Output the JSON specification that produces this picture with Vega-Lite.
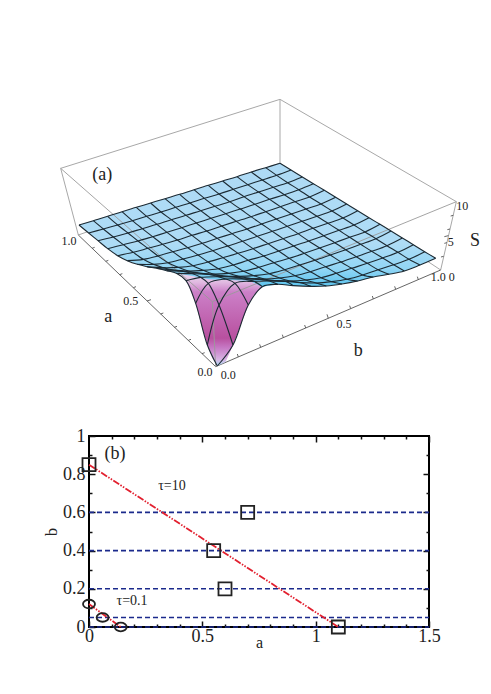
{
"$schema":"https://vega.github.io/schema/vega-lite/v6.json",
"padding":{"left":42,"top":90,"right":0,"bottom":0},
"spacing":36,
"background":"white",
"config":{"font":"Liberation Serif"},
"datasets":{
"surface":[{"n":0,"u":90,"v":405},{"n":1,"u":693,"v":220},{"n":2,"u":1160,"v":505},{"n":3,"u":1113,"v":525},{"n":4,"u":1066,"v":543},{"n":5,"u":1020,"v":553},{"n":6,"u":973,"v":561},{"n":7,"u":926,"v":573},{"n":8,"u":879,"v":582},{"n":9,"u":832,"v":588},{"n":10,"u":786,"v":589},{"n":11,"u":733,"v":587},{"n":12,"u":686,"v":583},{"n":13,"u":640,"v":590},{"n":14,"u":600,"v":572},{"n":15,"u":540,"v":570},{"n":16,"u":480,"v":568},{"n":17,"u":430,"v":558},{"n":18,"u":382,"v":550},{"n":19,"u":353,"v":542},{"n":20,"u":323,"v":535},{"n":21,"u":294,"v":530},{"n":22,"u":265,"v":523},{"n":23,"u":235,"v":512},{"n":24,"u":206,"v":497},{"n":25,"u":176,"v":476},{"n":26,"u":147,"v":452},{"n":27,"u":119,"v":429}],
"pit":[{"n":0,"u":385,"v":550},{"n":1,"u":411,"v":572},{"n":2,"u":420,"v":590},{"n":3,"u":440,"v":640},{"n":4,"u":460,"v":715},{"n":5,"u":475,"v":765},{"n":6,"u":490,"v":805},{"n":7,"u":505,"v":828},{"n":8,"u":530,"v":815},{"n":9,"u":552,"v":765},{"n":10,"u":575,"v":705},{"n":11,"u":598,"v":645},{"n":12,"u":615,"v":615},{"n":13,"u":640,"v":590},{"n":14,"u":600,"v":560},{"n":15,"u":500,"v":555}],
"grid":[
{"i":14,"j":0,"u":90,"v":405},{"i":13,"j":0,"u":119,"v":429},{"i":12,"j":0,"u":147,"v":452},{"i":11,"j":0,"u":176,"v":476},{"i":10,"j":0,"u":206,"v":497},{"i":9,"j":0,"u":235,"v":512},{"i":8,"j":0,"u":265,"v":523},{"i":7,"j":0,"u":294,"v":530},{"i":6,"j":0,"u":323,"v":535},{"i":5,"j":0,"u":353,"v":542},{"i":4,"j":0,"u":382,"v":550},{"i":3,"j":0,"u":411,"v":572},{"i":2,"j":0,"u":440,"v":640},{"i":1,"j":0,"u":475,"v":765},{"i":0,"j":0,"u":505,"v":828},
{"i":14,"j":1,"u":133,"v":392},{"i":13,"j":1,"u":163,"v":417},{"i":12,"j":1,"u":193,"v":441},{"i":11,"j":1,"u":223,"v":464},{"i":10,"j":1,"u":253,"v":487},{"i":9,"j":1,"u":283,"v":508},{"i":8,"j":1,"u":313,"v":523},{"i":7,"j":1,"u":343,"v":533},{"i":6,"j":1,"u":373,"v":540},{"i":5,"j":1,"u":402,"v":544},{"i":4,"j":1,"u":432,"v":551},{"i":3,"j":1,"u":455,"v":562},{"i":2,"j":1,"u":478,"v":580},{"i":1,"j":1,"u":510,"v":645},{"i":0,"j":1,"u":552,"v":765},
{"i":14,"j":2,"u":176,"v":379},{"i":13,"j":2,"u":206,"v":405},{"i":12,"j":2,"u":237,"v":429},{"i":11,"j":2,"u":267,"v":453},{"i":10,"j":2,"u":297,"v":475},{"i":9,"j":2,"u":327,"v":498},{"i":8,"j":2,"u":357,"v":518},{"i":7,"j":2,"u":387,"v":532},{"i":6,"j":2,"u":418,"v":543},{"i":5,"j":2,"u":448,"v":549},{"i":4,"j":2,"u":478,"v":553},{"i":3,"j":2,"u":508,"v":560},{"i":2,"j":2,"u":530,"v":567},{"i":1,"j":2,"u":558,"v":580},{"i":0,"j":2,"u":598,"v":645},
{"i":14,"j":3,"u":219,"v":365},{"i":13,"j":3,"u":250,"v":392},{"i":12,"j":3,"u":280,"v":416},{"i":11,"j":3,"u":311,"v":440},{"i":10,"j":3,"u":341,"v":463},{"i":9,"j":3,"u":371,"v":485},{"i":8,"j":3,"u":402,"v":507},{"i":7,"j":3,"u":432,"v":527},{"i":6,"j":3,"u":463,"v":541},{"i":5,"j":3,"u":493,"v":552},{"i":4,"j":3,"u":524,"v":558},{"i":3,"j":3,"u":554,"v":561},{"i":2,"j":3,"u":584,"v":567},{"i":1,"j":3,"u":615,"v":574},{"i":0,"j":3,"u":640,"v":590},
{"i":14,"j":4,"u":262,"v":352},{"i":13,"j":4,"u":293,"v":379},{"i":12,"j":4,"u":324,"v":403},{"i":11,"j":4,"u":354,"v":427},{"i":10,"j":4,"u":385,"v":450},{"i":9,"j":4,"u":416,"v":473},{"i":8,"j":4,"u":447,"v":495},{"i":7,"j":4,"u":477,"v":516},{"i":6,"j":4,"u":508,"v":536},{"i":5,"j":4,"u":539,"v":550},{"i":4,"j":4,"u":569,"v":559},{"i":3,"j":4,"u":600,"v":565},{"i":2,"j":4,"u":631,"v":568},{"i":1,"j":4,"u":661,"v":573},{"i":0,"j":4,"u":686,"v":583},
{"i":14,"j":5,"u":305,"v":339},{"i":13,"j":5,"u":336,"v":366},{"i":12,"j":5,"u":367,"v":389},{"i":11,"j":5,"u":398,"v":413},{"i":10,"j":5,"u":429,"v":436},{"i":9,"j":5,"u":460,"v":460},{"i":8,"j":5,"u":491,"v":482},{"i":7,"j":5,"u":522,"v":503},{"i":6,"j":5,"u":553,"v":525},{"i":5,"j":5,"u":584,"v":544},{"i":4,"j":5,"u":615,"v":557},{"i":3,"j":5,"u":646,"v":567},{"i":2,"j":5,"u":677,"v":572},{"i":1,"j":5,"u":708,"v":574},{"i":0,"j":5,"u":733,"v":587},
{"i":14,"j":6,"u":348,"v":326},{"i":13,"j":6,"u":380,"v":352},{"i":12,"j":6,"u":411,"v":376},{"i":11,"j":6,"u":442,"v":399},{"i":10,"j":6,"u":473,"v":423},{"i":9,"j":6,"u":505,"v":445},{"i":8,"j":6,"u":536,"v":468},{"i":7,"j":6,"u":567,"v":490},{"i":6,"j":6,"u":598,"v":511},{"i":5,"j":6,"u":630,"v":532},{"i":4,"j":6,"u":661,"v":551},{"i":3,"j":6,"u":692,"v":564},{"i":2,"j":6,"u":723,"v":573},{"i":1,"j":6,"u":755,"v":578},{"i":0,"j":6,"u":786,"v":589},
{"i":14,"j":7,"u":392,"v":313},{"i":13,"j":7,"u":423,"v":339},{"i":12,"j":7,"u":455,"v":362},{"i":11,"j":7,"u":486,"v":385},{"i":10,"j":7,"u":518,"v":408},{"i":9,"j":7,"u":549,"v":431},{"i":8,"j":7,"u":581,"v":454},{"i":7,"j":7,"u":612,"v":476},{"i":6,"j":7,"u":644,"v":498},{"i":5,"j":7,"u":675,"v":518},{"i":4,"j":7,"u":707,"v":539},{"i":3,"j":7,"u":738,"v":557},{"i":2,"j":7,"u":770,"v":570},{"i":1,"j":7,"u":801,"v":579},{"i":0,"j":7,"u":832,"v":588},
{"i":14,"j":8,"u":435,"v":299},{"i":13,"j":8,"u":466,"v":325},{"i":12,"j":8,"u":498,"v":349},{"i":11,"j":8,"u":530,"v":371},{"i":10,"j":8,"u":562,"v":394},{"i":9,"j":8,"u":594,"v":417},{"i":8,"j":8,"u":625,"v":439},{"i":7,"j":8,"u":657,"v":461},{"i":6,"j":8,"u":689,"v":483},{"i":5,"j":8,"u":721,"v":505},{"i":4,"j":8,"u":752,"v":525},{"i":3,"j":8,"u":784,"v":545},{"i":2,"j":8,"u":816,"v":563},{"i":1,"j":8,"u":848,"v":575},{"i":0,"j":8,"u":879,"v":582},
{"i":14,"j":9,"u":478,"v":286},{"i":13,"j":9,"u":510,"v":312},{"i":12,"j":9,"u":542,"v":335},{"i":11,"j":9,"u":574,"v":357},{"i":10,"j":9,"u":606,"v":380},{"i":9,"j":9,"u":638,"v":402},{"i":8,"j":9,"u":670,"v":424},{"i":7,"j":9,"u":702,"v":446},{"i":6,"j":9,"u":734,"v":468},{"i":5,"j":9,"u":766,"v":490},{"i":4,"j":9,"u":798,"v":511},{"i":3,"j":9,"u":830,"v":530},{"i":2,"j":9,"u":862,"v":550},{"i":1,"j":9,"u":894,"v":568},{"i":0,"j":9,"u":926,"v":573},
{"i":14,"j":10,"u":521,"v":273},{"i":13,"j":10,"u":553,"v":298},{"i":12,"j":10,"u":585,"v":320},{"i":11,"j":10,"u":618,"v":343},{"i":10,"j":10,"u":650,"v":365},{"i":9,"j":10,"u":682,"v":387},{"i":8,"j":10,"u":715,"v":409},{"i":7,"j":10,"u":747,"v":431},{"i":6,"j":10,"u":779,"v":453},{"i":5,"j":10,"u":812,"v":474},{"i":4,"j":10,"u":844,"v":495},{"i":3,"j":10,"u":876,"v":516},{"i":2,"j":10,"u":908,"v":535},{"i":1,"j":10,"u":941,"v":555},{"i":0,"j":10,"u":973,"v":561},
{"i":14,"j":11,"u":564,"v":260},{"i":13,"j":11,"u":596,"v":284},{"i":12,"j":11,"u":629,"v":306},{"i":11,"j":11,"u":662,"v":328},{"i":10,"j":11,"u":694,"v":350},{"i":9,"j":11,"u":727,"v":372},{"i":8,"j":11,"u":759,"v":394},{"i":7,"j":11,"u":792,"v":415},{"i":6,"j":11,"u":824,"v":437},{"i":5,"j":11,"u":857,"v":458},{"i":4,"j":11,"u":890,"v":479},{"i":3,"j":11,"u":922,"v":500},{"i":2,"j":11,"u":955,"v":520},{"i":1,"j":11,"u":987,"v":539},{"i":0,"j":11,"u":1020,"v":553},
{"i":14,"j":12,"u":607,"v":246},{"i":13,"j":12,"u":640,"v":270},{"i":12,"j":12,"u":673,"v":292},{"i":11,"j":12,"u":706,"v":314},{"i":10,"j":12,"u":738,"v":335},{"i":9,"j":12,"u":771,"v":357},{"i":8,"j":12,"u":804,"v":379},{"i":7,"j":12,"u":837,"v":400},{"i":6,"j":12,"u":870,"v":421},{"i":5,"j":12,"u":902,"v":442},{"i":4,"j":12,"u":935,"v":463},{"i":3,"j":12,"u":968,"v":484},{"i":2,"j":12,"u":1001,"v":504},{"i":1,"j":12,"u":1034,"v":524},{"i":0,"j":12,"u":1066,"v":543},
{"i":14,"j":13,"u":650,"v":233},{"i":13,"j":13,"u":683,"v":256},{"i":12,"j":13,"u":716,"v":278},{"i":11,"j":13,"u":749,"v":299},{"i":10,"j":13,"u":782,"v":321},{"i":9,"j":13,"u":816,"v":342},{"i":8,"j":13,"u":849,"v":363},{"i":7,"j":13,"u":882,"v":384},{"i":6,"j":13,"u":915,"v":405},{"i":5,"j":13,"u":948,"v":426},{"i":4,"j":13,"u":981,"v":446},{"i":3,"j":13,"u":1014,"v":467},{"i":2,"j":13,"u":1047,"v":487},{"i":1,"j":13,"u":1080,"v":508},{"i":0,"j":13,"u":1113,"v":525},
{"i":14,"j":14,"u":693,"v":220},{"i":13,"j":14,"u":726,"v":240},{"i":12,"j":14,"u":760,"v":261},{"i":11,"j":14,"u":793,"v":281},{"i":10,"j":14,"u":826,"v":301},{"i":9,"j":14,"u":860,"v":322},{"i":8,"j":14,"u":893,"v":342},{"i":7,"j":14,"u":926,"v":362},{"i":6,"j":14,"u":960,"v":383},{"i":5,"j":14,"u":993,"v":403},{"i":4,"j":14,"u":1026,"v":423},{"i":3,"j":14,"u":1060,"v":444},{"i":2,"j":14,"u":1093,"v":464},{"i":1,"j":14,"u":1127,"v":485},{"i":0,"j":14,"u":1160,"v":505}
],
"backbox":[{"u":35,"v":235,"u2":693,"v2":28},{"u":693,"v":28,"u2":1222,"v2":335},{"u":693,"v":28,"u2":693,"v2":220},{"u":88,"v":435,"u2":693,"v2":220},{"u":693,"v":220,"u2":1175,"v2":540},{"u":35,"v":235,"u2":88,"v2":435},{"u":1222,"v":335,"u2":1175,"v2":540}],
"frontbox":[{"u":35,"v":235,"u2":490,"v2":635},{"u":490,"v":635,"u2":1222,"v2":335},{"u":490,"v":635,"u2":500,"v2":830}],
"axes3d":[{"u":88,"v":435,"u2":500,"v2":830},{"u":500,"v":830,"u2":1175,"v2":540},
{"u":129,"v":475,"u2":137,"v2":472},{"u":170,"v":514,"u2":178,"v2":511},{"u":212,"v":554,"u2":220,"v2":551},{"u":253,"v":593,"u2":261,"v2":590},{"u":294,"v":633,"u2":306,"v2":629},{"u":335,"v":672,"u2":343,"v2":669},{"u":376,"v":712,"u2":384,"v2":709},{"u":418,"v":751,"u2":426,"v2":748},{"u":459,"v":791,"u2":467,"v2":788},
{"u":568,"v":801,"u2":565,"v2":792},{"u":635,"v":772,"u2":632,"v2":763},{"u":703,"v":743,"u2":700,"v2":734},{"u":770,"v":714,"u2":767,"v2":705},{"u":838,"v":685,"u2":834,"v2":673},{"u":905,"v":656,"u2":902,"v2":647},{"u":973,"v":627,"u2":970,"v2":618},{"u":1040,"v":598,"u2":1037,"v2":589},{"u":1108,"v":569,"u2":1105,"v2":560},
{"u":1184,"v":499,"u2":1176,"v2":501},{"u":1194,"v":458,"u2":1186,"v2":460},{"u":1198,"v":437,"u2":1186,"v2":440},{"u":1203,"v":417,"u2":1195,"v2":419},{"u":1213,"v":376,"u2":1205,"v2":378}],
"ticks3d":[{"u":60,"v":452,"t":"1.0"},{"u":245,"v":632,"t":"0.5"},{"u":468,"v":846,"t":"0.0"},{"u":538,"v":856,"t":"0.0"},{"u":885,"v":702,"t":"0.5"},{"u":1168,"v":560,"t":"1.0"},{"u":1208,"v":560,"t":"0"},{"u":1205,"v":456,"t":"5"},{"u":1240,"v":348,"t":"10"}],
"titles3d":[{"u":160,"v":255,"t":"(a)"},{"u":178,"v":682,"t":"a"},{"u":928,"v":782,"t":"b"},{"u":1278,"v":453,"t":"S"}],
"levels":[{"a":0,"b":0.6,"g":"0.6"},{"a":1.5,"b":0.6,"g":"0.6"},{"a":0,"b":0.4,"g":"0.4"},{"a":1.5,"b":0.4,"g":"0.4"},{"a":0,"b":0.2,"g":"0.2"},{"a":1.5,"b":0.2,"g":"0.2"},{"a":0,"b":0.05,"g":"0.05"},{"a":1.5,"b":0.05,"g":"0.05"},{"a":0,"b":0,"g":"0"},{"a":1.5,"b":0,"g":"0"}],
"fits":[{"a":0,"b":0.85,"g":"tau10"},{"a":1.1,"b":0,"g":"tau10"},{"a":0,"b":0.12,"g":"tau01"},{"a":0.14,"b":0,"g":"tau01"}],
"squares":[{"a":0,"b":0.85},{"a":0.55,"b":0.4},{"a":0.7,"b":0.6},{"a":0.6,"b":0.2},{"a":1.1,"b":0}],
"circles":[{"a":0,"b":0.12},{"a":0.06,"b":0.05},{"a":0.14,"b":0}],
"notes":[{"a":0.115,"b":0.905,"t":"(b)"}],
"taus":[{"a":0.366,"b":0.738,"t":"τ=10"},{"a":0.19,"b":0.136,"t":"τ=0.1"}]
},
"vconcat":[
{
"width":340,"height":300,
"view":{"stroke":null},
"encoding":{
"x":{"field":"u","type":"quantitative","scale":{"domain":[120,1140],"zero":false,"nice":false},"axis":null},
"y":{"field":"v","type":"quantitative","scale":{"domain":[900,0],"zero":false,"nice":false},"axis":null}
},
"layer":[
{"data":{"name":"backbox"},"mark":{"type":"rule","stroke":"#a8a8a8","strokeWidth":1},"encoding":{"x2":{"field":"u2"},"y2":{"field":"v2"}}},
{"data":{"name":"axes3d"},"mark":{"type":"rule","stroke":"#555555","strokeWidth":0.9},"encoding":{"x2":{"field":"u2"},"y2":{"field":"v2"}}},
{"data":{"name":"pit"},"mark":{"type":"line","strokeWidth":0,"interpolate":"linear","fill":{"gradient":"linear","x1":0,"x2":0,"y1":0,"y2":1,"stops":[{"offset":0,"color":"#ecdcf0"},{"offset":0.1,"color":"#e0b8e0"},{"offset":0.2,"color":"#cc80c8"},{"offset":0.7,"color":"#b8509f"},{"offset":0.8,"color":"#c678c4"},{"offset":0.93,"color":"#d8b4e4"},{"offset":1,"color":"#a8daf5"}]}},"encoding":{"order":{"field":"n"}}},
{"data":{"name":"surface"},"mark":{"type":"line","strokeWidth":0,"interpolate":"linear","fill":{"gradient":"linear","x1":0,"x2":0,"y1":0,"y2":1,"stops":[{"offset":0,"color":"#aedaf5"},{"offset":0.65,"color":"#aedcf6"},{"offset":0.85,"color":"#93d6f5"},{"offset":1,"color":"#5cc4ee"}]}},"encoding":{"order":{"field":"n"}}},
{"data":{"name":"frontbox"},"mark":{"type":"rule","stroke":"#9a9a9a","strokeWidth":0.9},"encoding":{"x2":{"field":"u2"},"y2":{"field":"v2"}}},
{"data":{"name":"grid"},"mark":{"type":"line","stroke":"#1c2a33","strokeWidth":1.1,"interpolate":"catmull-rom"},"encoding":{"detail":{"field":"j"},"order":{"field":"i"}}},
{"data":{"name":"grid"},"mark":{"type":"line","stroke":"#1c2a33","strokeWidth":1.1,"interpolate":"catmull-rom"},"encoding":{"detail":{"field":"i"},"order":{"field":"j"}}},
{"data":{"name":"ticks3d"},"mark":{"type":"text","fontSize":12,"font":"Liberation Serif","fill":"#222222"},"encoding":{"text":{"field":"t"}}},
{"data":{"name":"titles3d"},"mark":{"type":"text","fontSize":18,"font":"Liberation Serif","fill":"#222222"},"encoding":{"text":{"field":"t"}}}
]
},
{
"width":340,"height":191,
"view":{"stroke":"black","strokeWidth":2},
"resolve":{"axis":{"x":"independent","y":"independent"}},
"encoding":{
"x":{"field":"a","type":"quantitative","scale":{"domain":[0,1.5],"nice":false,"zero":false}},
"y":{"field":"b","type":"quantitative","scale":{"domain":[0,1],"nice":false,"zero":false}}
},
"layer":[
{"data":{"name":"levels"},"mark":{"type":"line","stroke":"#1b2a8c","strokeWidth":1.6,"strokeDash":[5,3]},
"encoding":{"detail":{"field":"g"},
"x":{"field":"a","type":"quantitative","axis":{"orient":"bottom","title":"a","titleFont":"Liberation Serif","titleFontSize":16,"titleFontWeight":"normal","titleColor":"#222222","titlePadding":-11,"values":[0,0.5,1,1.5],"format":"~g","labelFont":"Liberation Serif","labelFontSize":18,"labelColor":"#222222","labelPadding":6,"labelFlush":false,"tickSize":-6,"tickWidth":1.5,"tickColor":"#111111","domain":false,"grid":false}},
"y":{"field":"b","type":"quantitative","axis":{"orient":"left","title":"b","titleFont":"Liberation Serif","titleFontSize":16,"titleFontWeight":"normal","titleColor":"#222222","titlePadding":3,"values":[0,0.2,0.4,0.6,0.8,1],"format":"~g","labelFont":"Liberation Serif","labelFontSize":18,"labelColor":"#222222","labelPadding":10,"labelFlush":false,"tickSize":-6,"tickWidth":1.5,"tickColor":"#111111","domain":false,"grid":false}}}},
{"data":{"name":"fits"},"mark":{"type":"line","stroke":"#e2202f","strokeWidth":1.8,"strokeDash":[7,1.5,1.5,1.5,1.5,1.5]},
"encoding":{"detail":{"field":"g"},
"x":{"field":"a","type":"quantitative","axis":{"orient":"top","title":null,"values":[0.5,1,1.5],"labels":false,"tickSize":-6,"tickWidth":1.5,"tickColor":"#111111","domain":false,"grid":false}},
"y":{"field":"b","type":"quantitative","axis":{"orient":"right","title":null,"values":[0.2,0.4,0.6,0.8],"labels":false,"tickSize":-6,"tickWidth":1.5,"tickColor":"#111111","domain":false,"grid":false}}}},
{"data":{"name":"squares"},"mark":{"type":"point","shape":"square","size":169,"filled":false,"stroke":"#222222","strokeWidth":1.8,"opacity":1},
"encoding":{
"x":{"field":"a","type":"quantitative","axis":{"orient":"top","title":null,"values":[0.1,0.2,0.3,0.4,0.6,0.7,0.8,0.9,1.1,1.2,1.3,1.4],"labels":false,"tickSize":-3,"tickWidth":1.5,"tickColor":"#111111","domain":false,"grid":false}},
"y":{"field":"b","type":"quantitative","axis":{"orient":"right","title":null,"values":[0.1,0.3,0.5,0.7,0.9],"labels":false,"tickSize":-3,"tickWidth":1.5,"tickColor":"#111111","domain":false,"grid":false}}}},
{"data":{"name":"circles"},"mark":{"type":"point","shape":"M-1,0A1,0.72 0 1 1 1,0A1,0.72 0 1 1 -1,0Z","size":144,"filled":false,"stroke":"#222222","strokeWidth":1.8,"opacity":1},
"encoding":{
"x":{"field":"a","type":"quantitative","axis":{"orient":"bottom","title":null,"values":[0.1,0.2,0.3,0.4,0.6,0.7,0.8,0.9,1.1,1.2,1.3,1.4],"labels":false,"tickSize":-3,"tickWidth":1.5,"tickColor":"#111111","domain":false,"grid":false}},
"y":{"field":"b","type":"quantitative","axis":{"orient":"left","title":null,"values":[0.1,0.3,0.5,0.7,0.9],"labels":false,"tickSize":-3,"tickWidth":1.5,"tickColor":"#111111","domain":false,"grid":false}}}},
{"data":{"name":"notes"},"mark":{"type":"text","fontSize":18,"font":"Liberation Serif","fill":"#222222"},"encoding":{"text":{"field":"t"},"x":{"field":"a","type":"quantitative","axis":null},"y":{"field":"b","type":"quantitative","axis":null}}},
{"data":{"name":"taus"},"mark":{"type":"text","fontSize":14,"font":"Liberation Serif","fill":"#222222"},"encoding":{"text":{"field":"t"},"x":{"field":"a","type":"quantitative","axis":null},"y":{"field":"b","type":"quantitative","axis":null}}}
]
}
]
}
